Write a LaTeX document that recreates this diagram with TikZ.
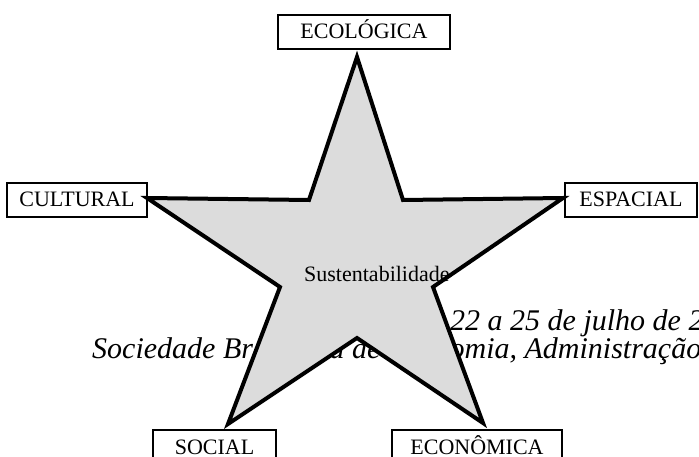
\documentclass[tikz,border=0pt]{standalone}
\usepackage{fontspec}
\setmainfont{Liberation Serif}
\definecolor{stargray}{RGB}{220,220,220}
\begin{document}
\begin{tikzpicture}[x=1pt,y=-1pt,
  dimbox/.style={draw,line width=2pt,inner sep=0pt,minimum height=34pt,
    text height=24pt,text depth=10pt,font=\fontsize{22}{26}\selectfont},
  bgtext/.style={anchor=base west,inner sep=0pt,font=\itshape\fontsize{30}{36}\selectfont},
  starline/.style={line width=4pt,line join=miter}]
\useasboundingbox (0,0) rectangle (699,457);
\clip (0,0) rectangle (699,457);
% background header text (partly hidden by the star)
\node[bgtext] (h1) at (450,330) {22 a 25 de julho de 2007};
\node[bgtext] (h2) at (92,358) {Sociedade Brasileira de Economia, Administração e Sociologia Rural};
% star
\coordinate (t) at (357,57);
\coordinate (iur) at (403,200);
\coordinate (r) at (563,198);
\coordinate (ir) at (433,287);
\coordinate (br) at (483,423);
\coordinate (ib) at (357,338);
\coordinate (bl) at (228,424);
\coordinate (il) at (280,287);
\coordinate (l) at (147,198);
\coordinate (iul) at (309,200);
\fill[stargray] (t) -- (iur) -- (r) -- (ir) -- (br) -- (ib) -- (bl) -- (il) -- (l) -- (iul) -- cycle;
\node[anchor=base west,inner sep=0pt,font=\fontsize{22}{26}\selectfont] (sus) at (304,282) {Sustentabilidade};
\draw[starline] (t) -- (iur) -- (r) -- (ir) -- (br) -- (ib) -- (bl) -- (il) -- (l) -- (iul) -- cycle;
% dimension boxes
\node[dimbox,minimum width=172pt] (eco) at (364,32) {ECOLÓGICA};
\node[dimbox,minimum width=140pt] (cul) at (77,200) {CULTURAL};
\node[dimbox,minimum width=132pt] (esp) at (631,200) {ESPACIAL};
\node[dimbox,minimum width=123pt] (soc) at (214.5,447) {SOCIAL};
\node[dimbox,minimum width=170pt] (econ) at (477,447) {ECONÔMICA};
\end{tikzpicture}
\end{document}
